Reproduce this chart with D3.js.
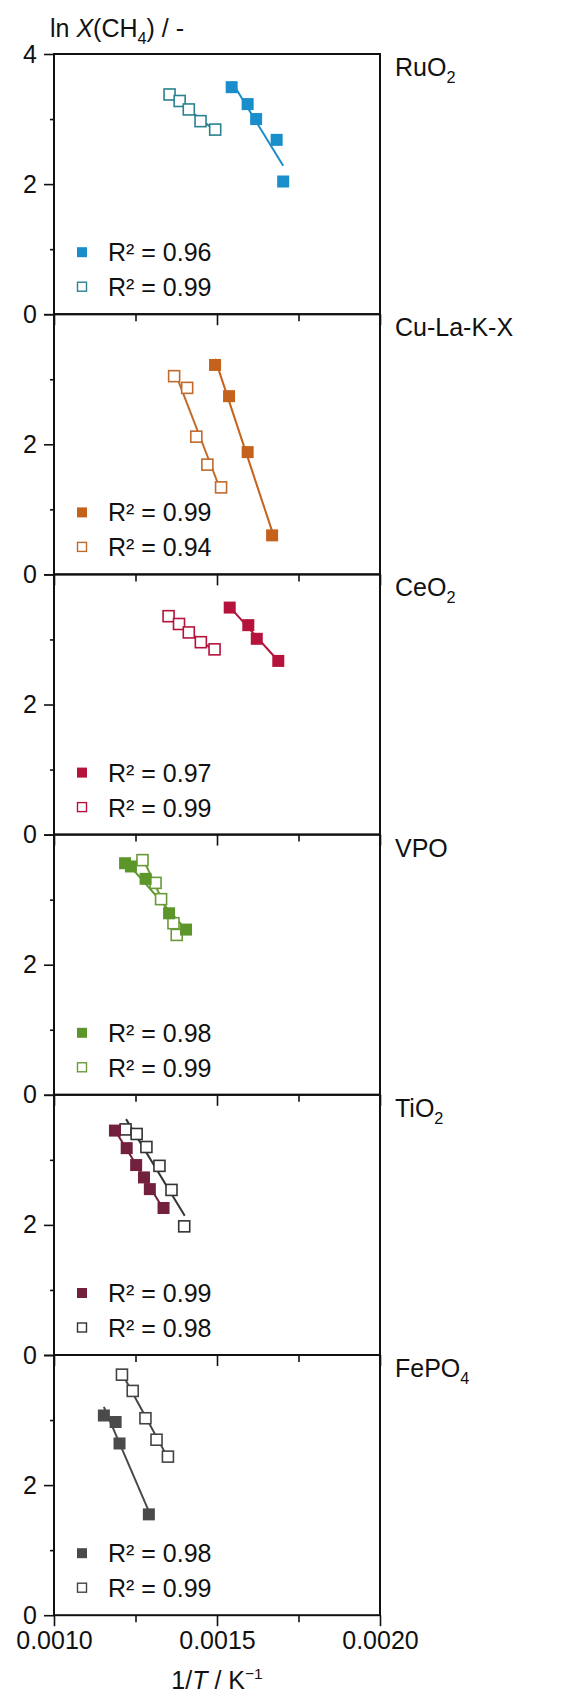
<!doctype html>
<html>
<head>
<meta charset="UTF-8">
<title>ln X(CH4) vs 1/T</title>
<script src="https://d3js.org/d3.v7.min.js"></script>
<style>
  body { margin: 0; background: #fff; }
  text { font-family: "Liberation Sans", Arial, sans-serif; fill: #111; }
</style>
</head>
<body>
<script>
// catalysts, one panel each, top to bottom
var catalysts = ["RuO2", "Cu-La-K-X", "CeO2", "VPO", "TiO2", "FePO4"];
var fillColors = ["#1a8dcb", "#c4621c", "#b5133c", "#5c962a", "#73203f", "#4a4a4a"];
var openColors = ["#2a8290", "#c06a2c", "#b5133c", "#6a9a38", "#333333", "#444444"];
var r2Filled = ["0.96", "0.99", "0.97", "0.98", "0.99", "0.98"];
var r2Open = ["0.99", "0.94", "0.99", "0.99", "0.98", "0.99"];

// 1/T (K^-1) and ln X(CH4), filled symbols
var filledX = [
  [0.001545, 0.001594, 0.001620, 0.001683, 0.001703],
  [0.001494, 0.001537, 0.001594, 0.001669],
  [0.001539, 0.001596, 0.001622, 0.001688],
  [0.001218, 0.001236, 0.001281, 0.001353, 0.001405],
  [0.001187, 0.001223, 0.001252, 0.001276, 0.001294, 0.001336],
  [0.001153, 0.001189, 0.001201, 0.001291]
];
var filledY = [
  [3.49, 3.23, 3.00, 2.68, 2.04],
  [3.22, 2.74, 1.88, 0.60],
  [3.49, 3.22, 3.01, 2.67],
  [3.56, 3.51, 3.32, 2.79, 2.54],
  [3.45, 3.18, 2.92, 2.73, 2.55, 2.26],
  [3.07, 2.97, 2.64, 1.55]
];
// open symbols
var openX = [
  [0.001356, 0.001387, 0.001415, 0.001451, 0.001496],
  [0.001370, 0.001410, 0.001438, 0.001472, 0.001514],
  [0.001353, 0.001385, 0.001415, 0.001452, 0.001494],
  [0.001273, 0.001313, 0.001330, 0.001368, 0.001378],
  [0.001221, 0.001255, 0.001285, 0.001325, 0.001362, 0.001401],
  [0.001210, 0.001243, 0.001282, 0.001316, 0.001351]
];
var openY = [
  [3.37, 3.27, 3.14, 2.96, 2.83],
  [3.04, 2.86, 2.11, 1.68, 1.33],
  [3.35, 3.23, 3.10, 2.95, 2.84],
  [3.60, 3.25, 3.00, 2.63, 2.45],
  [3.46, 3.39, 3.19, 2.90, 2.53, 1.97],
  [3.69, 3.44, 3.02, 2.69, 2.43]
];

var xTicks = [0.001, 0.00125, 0.0015, 0.00175, 0.002];
var yTicks = [0, 1, 2, 3, 4];

var W = 574, H = 1702;
var left = 54, right = 380, top0 = 54, ph = 260.2;
var fs = 25;

var svg = d3.select("body").append("svg").attr("width", W).attr("height", H);

var x = d3.scaleLinear().domain([0.001, 0.002]).range([left, right]);
var y = d3.scaleLinear().domain([0, 4]).range([ph, 0]);

function isMajorX(v) { return Math.abs(v * 2000 - Math.round(v * 2000)) < 1e-6; }

// label with numeric subscripts (RuO2 -> RuO₂ style)
function chemLabel(sel, name) {
  var parts = name.match(/[0-9]+|[^0-9]+/g);
  var first = true;
  parts.forEach(function (p) {
    var isNum = /^[0-9]+$/.test(p) && !first;
    sel.append("tspan")
      .attr("font-size", isNum ? fs * 0.65 : fs)
      .attr("dy", isNum ? 7 : 0)
      .text(p);
    first = false;
  });
}

function fit(xs, ys) {
  var mx = d3.mean(xs), my = d3.mean(ys);
  var sxy = d3.sum(xs, function (v, i) { return (v - mx) * (ys[i] - my); });
  var sxx = d3.sum(xs, function (v) { return (v - mx) * (v - mx); });
  var b = sxy / sxx, a = my - b * mx;
  var x0 = d3.min(xs), x1 = d3.max(xs);
  return [[x0, a + b * x0], [x1, a + b * x1]];
}

catalysts.forEach(function (name, p) {
  var g = svg.append("g").attr("transform", "translate(0," + (top0 + p * ph) + ")");
  var last = p === catalysts.length - 1;

  // fit lines
  var line = d3.line().x(function (d) { return x(d[0]); }).y(function (d) { return y(d[1]); });
  g.append("path").attr("d", line(fit(filledX[p], filledY[p])))
    .attr("stroke", fillColors[p]).attr("stroke-width", 2).attr("fill", "none");
  g.append("path").attr("d", line(fit(openX[p], openY[p])))
    .attr("stroke", openColors[p]).attr("stroke-width", 2).attr("fill", "none");

  // markers
  var ms = 12;
  g.selectAll("rect.op").data(d3.zip(openX[p], openY[p])).enter().append("rect")
    .attr("class", "op")
    .attr("x", function (d) { return x(d[0]) - ms / 2; })
    .attr("y", function (d) { return y(d[1]) - ms / 2; })
    .attr("width", ms - 1).attr("height", ms - 1)
    .attr("fill", "#fff").attr("stroke", openColors[p]).attr("stroke-width", 1.6);
  g.selectAll("rect.fi").data(d3.zip(filledX[p], filledY[p])).enter().append("rect")
    .attr("class", "fi")
    .attr("x", function (d) { return x(d[0]) - ms / 2; })
    .attr("y", function (d) { return y(d[1]) - ms / 2; })
    .attr("width", ms).attr("height", ms)
    .attr("fill", fillColors[p]);

  // legend
  var lg = g.append("g");
  lg.append("rect").attr("x", 77).attr("y", ph - 67).attr("width", 10).attr("height", 10)
    .attr("fill", fillColors[p]);
  lg.append("rect").attr("x", 77.5).attr("y", ph - 32).attr("width", 9).attr("height", 9)
    .attr("fill", "#fff").attr("stroke", openColors[p]).attr("stroke-width", 1.4);
  [[r2Filled[p], ph - 53], [r2Open[p], ph - 18]].forEach(function (r) {
    lg.append("text").attr("x", 108).attr("y", r[1]).attr("font-size", fs)
      .text("R\u00b2 = " + r[0]);
  });

  // frame
  g.append("rect").attr("x", left).attr("y", 0).attr("width", right - left).attr("height", ph)
    .attr("fill", "none").attr("stroke", "#111").attr("stroke-width", 2);

  // y axis
  var ya = d3.axisLeft(y).tickValues(yTicks).tickSizeOuter(0)
    .tickFormat(function (d) { return (d % 2 === 0 && (d < 4 || p === 0)) ? d : ""; });
  var yg = g.append("g").attr("transform", "translate(" + left + ",0)").call(ya);
  yg.select(".domain").remove();
  yg.selectAll(".tick line").attr("stroke", "#111").attr("stroke-width", 1.6)
    .attr("x2", function (d) { return d % 2 === 0 ? -10 : -4; });
  yg.selectAll(".tick text").attr("font-size", fs).attr("fill", "#111")
    .attr("font-family", "Liberation Sans, Arial, sans-serif").attr("x", -17);

  // x axis (ticks point down, into the next panel)
  var xa = d3.axisBottom(x).tickValues(xTicks).tickSizeOuter(0)
    .tickFormat(function (d) { return (last && isMajorX(d)) ? d3.format(".4f")(d) : ""; });
  var xg = g.append("g").attr("transform", "translate(0," + ph + ")").call(xa);
  xg.select(".domain").remove();
  xg.selectAll(".tick line").attr("stroke", "#111").attr("stroke-width", 1.6)
    .attr("y2", function (d) { return isMajorX(d) ? 11 : 7; });
  xg.selectAll(".tick text").attr("font-size", fs).attr("fill", "#111")
    .attr("font-family", "Liberation Sans, Arial, sans-serif").attr("y", 16);

  // panel name
  var nt = g.append("text").attr("x", 395).attr("y", 22).attr("font-size", fs);
  chemLabel(nt, name);
});

// y title
var yt = svg.append("text").attr("x", 50).attr("y", 37).attr("font-size", fs);
yt.append("tspan").text("ln ");
yt.append("tspan").attr("font-style", "italic").text("X");
yt.append("tspan").text("(CH");
yt.append("tspan").attr("font-size", fs * 0.65).attr("dy", 7).text("4");
yt.append("tspan").attr("dy", -7).text(") / -");

// x title
var xt = svg.append("text").attr("x", (left + right) / 2).attr("y", 1689)
  .attr("font-size", fs).attr("text-anchor", "middle");
xt.append("tspan").text("1/");
xt.append("tspan").attr("font-style", "italic").text("T");
xt.append("tspan").text(" / K");
xt.append("tspan").attr("font-size", fs * 0.62).attr("dy", -10).text("\u22121");
</script>
</body>
</html>
